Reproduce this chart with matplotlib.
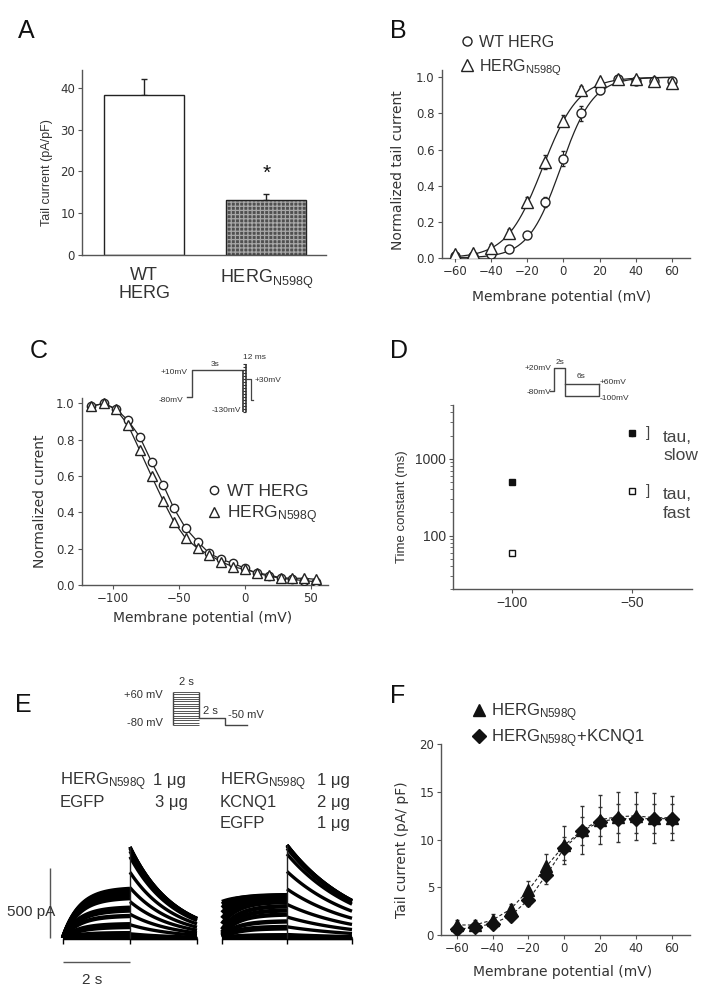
import numpy as np
import matplotlib
matplotlib.use("Agg")
import matplotlib.pyplot as plt

W, H = 715, 999

plt.rcParams['font.family'] = ['Liberation Sans', 'DejaVu Sans']
plt.rcParams['mathtext.fontset'] = 'custom'
plt.rcParams['mathtext.rm'] = 'Liberation Sans'
plt.rcParams['mathtext.it'] = 'Liberation Sans:italic'
plt.rcParams['hatch.linewidth'] = 0.9

TXT = '#333333'
AXC = '#555555'
WIDE = 'DejaVu Sans'
N598Q = r'HERG$_{\mathrm{N598Q}}$'

# ---------------- data ----------------
# A: tail current density
a_groups = ['WT\nHERG', N598Q]
a_means = [38.2, 13.2]
a_sem = [3.9, 1.3]

# B: activation curves (normalized tail current)
b_v = [-60, -50, -40, -30, -20, -10, 0, 10, 20, 30, 40, 50, 60]
b_wt = [0.01, 0.01, 0.02, 0.05, 0.13, 0.31, 0.55, 0.80, 0.93, 0.99, 0.98, 0.98, 0.98]
b_wt_err = [0.005, 0.005, 0.01, 0.01, 0.015, 0.03, 0.04, 0.04, 0.02, 0.01, 0.01, 0.01, 0.01]
b_mut = [0.02, 0.03, 0.055, 0.14, 0.31, 0.53, 0.76, 0.93, 0.98, 0.99, 0.99, 0.98, 0.97]
b_mut_err = [0.01, 0.01, 0.02, 0.02, 0.03, 0.04, 0.03, 0.02, 0.01, 0.01, 0.01, 0.01, 0.01]
# Boltzmann fit parameters (V1/2, slope)
b_fit_wt = (-1.5, 9.0)
b_fit_mut = (-11.5, 10.0)

# C: steady-state inactivation
c_v = [-117, -107, -98, -89, -80, -71, -62, -54, -45, -36, -27, -18, -9, 0, 9, 18, 27, 36, 45, 54]
c_wt = [0.985, 1.0, 0.97, 0.908, 0.817, 0.679, 0.55, 0.422, 0.312, 0.239, 0.174, 0.141, 0.119,
        0.092, 0.064, 0.05, 0.037, 0.031, 0.024, 0.018]
c_mut = [0.985, 1.0, 0.967, 0.884, 0.743, 0.60, 0.462, 0.349, 0.257, 0.202, 0.165, 0.128, 0.10,
         0.086, 0.068, 0.055, 0.04, 0.037, 0.037, 0.031]

# D: deactivation time constants
d_v = [-100, -50]
d_tau_slow = [492, 2130]
d_tau_fast = [60, 383]

# E: current traces, one value per sweep (-80..+60 mV), pA
e_left_inst = [0] * 15
e_left_plat = [0, 20, 35, 80, 100, 160, 200, 220, 290, 310, 330, 345, 357, 350, 340]
e_left_tail = [0, 0, 10, 30, 95, 170, 260, 360, 470, 580, 620, 640, 650, 650, 650]
e_right_inst = [0, 0, 0, 5, 10, 15, 25, 40, 60, 100, 140, 180, 215, 240, 257]
e_right_plat = [0, 15, 20, 70, 80, 120, 170, 200, 230, 260, 280, 295, 305, 307, 300]
e_right_tail = [0, 0, 10, 25, 80, 150, 240, 350, 475, 600, 640, 655, 664, 664, 664]
e_tau_act = 0.5
e_tau_left = 1.3
e_tau_right = 2.2

# F: tail current-voltage
f_v = [-60, -50, -40, -30, -20, -10, 0, 10, 20, 30, 40, 50, 60]
f_mut = [1.05, 1.05, 1.57, 2.7, 4.7, 7.2, 9.4, 11.0, 12.1, 12.4, 12.5, 12.3, 12.3]
f_mut_err = [0.5, 0.5, 0.6, 0.6, 1.0, 1.3, 2.0, 2.5, 2.6, 2.6, 2.5, 2.6, 2.3]
f_kcnq = [0.6, 0.8, 1.2, 2.0, 3.7, 6.3, 9.1, 10.9, 11.9, 12.2, 12.2, 12.2, 12.2]
f_kcnq_err = [0.4, 0.4, 0.4, 0.5, 0.7, 1.0, 1.2, 1.5, 1.5, 1.5, 1.5, 1.5, 1.5]

# protocols (schematic times in s, voltages in mV)
pc_t, pc_v = [-0.25, 0, 0, 3.0], [-80, -80, 10, 10]
pc_pulses = list(range(-130, 40, 10))
pc_after_t, pc_after_v = [3.2, 3.45, 3.45, 3.6], [-20, -20, -90, -90]
pd_t, pd_v = [-0.8, 0, 0, 2, 2, 8, 8], [-80, -80, 20, 20, -100, -100, -50]
pd_t2, pd_v2 = [2, 8], [-50, -50]
pe_sweeps = list(range(-80, 70, 10))
pe_t, pe_v = [2, 4, 4, 5.7], [-50, -50, -80, -80]


fig = plt.figure(figsize=(W / 100, H / 100), dpi=100)


def px_axes(x0, y0, x1, y1):
    return fig.add_axes([x0 / W, 1 - y1 / H, (x1 - x0) / W, (y1 - y0) / H])


def ftext(x, y, s, **kw):
    kw.setdefault('color', TXT)
    return fig.text(x / W, 1 - y / H, s, **kw)


def style(ax, family=WIDE, size=8.5):
    for s in ['top', 'right']:
        ax.spines[s].set_visible(False)
    for s in ['left', 'bottom']:
        ax.spines[s].set_color(AXC)
        ax.spines[s].set_linewidth(1.0)
    ax.tick_params(direction='out', length=3, width=0.8, color=AXC, labelcolor=TXT,
                   labelsize=size, pad=2)
    for lab in ax.get_xticklabels() + ax.get_yticklabels():
        lab.set_family(family)


def label(ax, axis, text, frac, size=10, family=WIDE):
    if axis == 'y':
        ax.set_ylabel(text, va='center', fontsize=size, family=family, color=TXT)
        ax.yaxis.set_label_coords(*frac)
    else:
        ax.set_xlabel(text, va='center', fontsize=size, family=family, color=TXT)
        ax.xaxis.set_label_coords(*frac)


def legend(ax, x, y, size, spacing=0.25):
    lg = ax.legend(loc='upper left', bbox_to_anchor=(x / W, 1 - y / H),
                   bbox_transform=fig.transFigure, frameon=False, fontsize=size,
                   handlelength=0.8, handletextpad=0.35, borderpad=0, labelspacing=spacing,
                   borderaxespad=0, numpoints=1)
    for t in lg.get_texts():
        t.set_color(TXT)


# ---------------- A ----------------
axA = px_axes(82, 70, 326, 255)
xa = np.arange(len(a_means))
axA.bar(xa[0], a_means[0], width=0.66, color='white', edgecolor='#222', lw=1.0, zorder=2)
axA.bar(xa[1], a_means[1], width=0.66, color='#505050', edgecolor='#a8a8a8', lw=0,
        hatch='++++', zorder=2)
axA.bar(xa[1], a_means[1], width=0.66, color='none', edgecolor='#222', lw=1.0, zorder=3)
axA.errorbar(xa, a_means, yerr=[[0, 0], a_sem], fmt='none', ecolor='#222', elinewidth=1,
             capsize=2.5, capthick=1, zorder=1)
axA.text(1, 19.6, '*', ha='center', va='center', fontsize=15, color='#111')
axA.set_xlim(-0.51, 1.49)
axA.set_ylim(0, 44.3)
axA.set_yticks([0, 10, 20, 30, 40])
axA.set_xticks(xa)
axA.set_xticklabels(a_groups, fontsize=13, linespacing=1.0)
style(axA, size=8.5)
axA.tick_params(axis='x', length=0, pad=9, labelsize=13)
for lab in axA.get_xticklabels():
    lab.set_family(['Liberation Sans', 'DejaVu Sans'])
label(axA, 'y', 'Tail current (pA/pF)', (-0.143, 0.446), size=9,
      family=['Liberation Sans', 'DejaVu Sans'])

# ---------------- B ----------------
axB = px_axes(441.7, 70, 690, 258)
vv = np.linspace(-60, 60, 241)
for (vh, k) in (b_fit_wt, b_fit_mut):
    axB.plot(vv, 1 / (1 + np.exp((vh - vv) / k)), color='#222', lw=0.9, zorder=1)
axB.errorbar(b_v, b_wt, yerr=b_wt_err, fmt='none', ecolor='#222', elinewidth=0.8, capsize=1.5)
axB.errorbar(b_v, b_mut, yerr=b_mut_err, fmt='none', ecolor='#222', elinewidth=0.8, capsize=1.5)
axB.plot(b_v, b_wt, 'o', ms=6.5, mfc='white', mec='#222', mew=1, label='WT HERG', zorder=3)
axB.plot(b_v, b_mut, '^', ms=8, mfc='white', mec='#222', mew=1, label=N598Q, zorder=4)
axB.set_xlim(-67.4, 70.1)
axB.set_ylim(0, 1.04)
axB.set_xticks(range(-60, 61, 20))
axB.set_yticks(np.arange(0, 1.01, 0.2))
axB.set_yticklabels(['0.0', '0.2', '0.4', '0.6', '0.8', '1.0'])
style(axB)
label(axB, 'y', 'Normalized tail current', (-0.176, 0.468))
label(axB, 'x', 'Membrane potential (mV)', (0.4845, -0.207))
legend(axB, 461, 35, 11.5, spacing=0.45)

# ---------------- C ----------------
axC = px_axes(81.7, 398, 328, 585)
axC.plot(c_v, c_wt, color='#222', lw=0.9, zorder=1)
axC.plot(c_v, c_mut, color='#222', lw=0.9, zorder=1)
axC.plot(c_v, c_wt, 'o', ms=6, mfc='white', mec='#222', mew=1, label='WT HERG', zorder=3)
axC.plot(c_v, c_mut, '^', ms=7, mfc='white', mec='#222', mew=1, label=N598Q, zorder=4)
axC.set_xlim(-124, 63)
axC.set_ylim(0, 1.03)
axC.set_xticks([-100, -50, 0, 50])
axC.set_yticks(np.arange(0, 1.01, 0.2))
axC.set_yticklabels(['0.0', '0.2', '0.4', '0.6', '0.8', '1.0'])
style(axC)
label(axC, 'y', 'Normalized current', (-0.169, 0.449))
label(axC, 'x', 'Membrane potential (mV)', (0.4925, -0.176))
legend(axC, 207, 484, 12.5)

# C protocol
pC = px_axes(185, 350, 265, 420)
pC.set_xlim(-0.392, 4.287)
pC.set_ylim(-156.7, 76.7)
pC.axis('off')
pC.plot(pc_t, pc_v, color='#444', lw=1)
pC.vlines(3.0, min(pc_pulses), 10, color='#333', lw=1.2)
pC.hlines(pc_pulses, 3.0, 3.2, color='#333', lw=0.8)
pC.vlines(3.2, min(pc_pulses), max(pc_pulses), color='#333', lw=1.2)
pC.plot(pc_after_t, pc_after_v, color='#444', lw=0.9)
ftext(188, 372, '+10mV', ha='right', va='center', fontsize=6)
ftext(183, 401, '-80mV', ha='right', va='center', fontsize=6)
ftext(215, 365, '3s', ha='center', va='center', fontsize=6)
ftext(254, 358, '12 ms', ha='center', va='center', fontsize=6)
ftext(255, 381, '+30mV', ha='left', va='center', fontsize=6)
ftext(241, 411, '-130mV', ha='right', va='center', fontsize=6)

# ---------------- D ----------------
axD = px_axes(452.7, 405, 691.7, 589.3)
axD.set_yscale('log')
axD.errorbar(d_v, d_tau_slow, yerr=[[v * 0.06 for v in d_tau_slow], [v * 0.06 for v in d_tau_slow]],
             fmt='s', ms=4.5, mfc='#111', mec='#111', ecolor='#333', elinewidth=0.8, capsize=1)
axD.errorbar(d_v, d_tau_fast, yerr=[[v * 0.06 for v in d_tau_fast], [v * 0.06 for v in d_tau_fast]],
             fmt='s', ms=4.5, mfc='white', mec='#111', mew=1, ecolor='#333', elinewidth=0.8, capsize=1)
axD.set_xlim(-125, -25)
axD.set_ylim(20, 5000)
axD.set_xticks([-100, -50])
axD.set_yticks([100, 1000])
axD.set_yticklabels(['100', '1000'])
style(axD, family=['Liberation Sans', 'DejaVu Sans'], size=10)
axD.tick_params(which='minor', length=2, color=AXC)
axD.yaxis.set_minor_formatter(plt.NullFormatter())
label(axD, 'y', 'Time constant (ms)', (-0.212, 0.4466), size=9.5,
      family=['Liberation Sans', 'DejaVu Sans'])
for yv, txt in ((d_tau_slow[1], 'tau,\nslow'), (d_tau_fast[1], 'tau,\nfast')):
    axD.text(-43.5, yv, ']', ha='center', va='center', fontsize=11, color='#444')
    axD.text(-37.0, yv * 1.12, txt, ha='left', va='top', fontsize=12.5, color='#444',
             linespacing=1.3)

# D protocol
pD = px_axes(540, 355, 640, 405)
pD.set_xlim(-2.5, 15.36)
pD.set_ylim(-140.9, 76.5)
pD.axis('off')
pD.plot(pd_t, pd_v, color='#444', lw=1)
pD.plot(pd_t2, pd_v2, color='#444', lw=1)
ftext(551, 368, '+20mV', ha='right', va='center', fontsize=6)
ftext(551, 392, '-80mV', ha='right', va='center', fontsize=6)
ftext(560, 362, '2s', ha='center', va='center', fontsize=6)
ftext(581, 377, '6s', ha='center', va='center', fontsize=6)
ftext(600, 383, '+60mV', ha='left', va='center', fontsize=6)
ftext(600, 398, '-100mV', ha='left', va='center', fontsize=6)

# ---------------- E ----------------
pE = px_axes(150, 680, 260, 735)
pE.set_xlim(-1.77, 6.69)
pE.set_ylim(-122.4, 110.7)
pE.axis('off')
pE.hlines(pe_sweeps, 0, 2, color='#555', lw=0.7)
pE.vlines(0, min(pe_sweeps), max(pe_sweeps), color='#444', lw=1)
pE.vlines(2, pe_v[0], max(pe_sweeps), color='#444', lw=1)
pE.plot(pe_t, pe_v, color='#444', lw=1)
ftext(163, 695, '+60 mV', ha='right', va='center', fontsize=8)
ftext(163, 723, '-80 mV', ha='right', va='center', fontsize=8)
ftext(186, 682, '2 s', ha='center', va='center', fontsize=8)
ftext(210, 711, '2 s', ha='center', va='center', fontsize=8)
ftext(228, 715, '-50 mV', ha='left', va='center', fontsize=8)

ftext(60, 785, N598Q, ha='left', va='baseline', fontsize=12)
ftext(153, 785, '1 μg', ha='left', va='baseline', fontsize=12)
ftext(60, 807, 'EGFP', ha='left', va='baseline', fontsize=12)
ftext(155, 807, '3 μg', ha='left', va='baseline', fontsize=12)
ftext(220, 785, N598Q, ha='left', va='baseline', fontsize=12)
ftext(317, 785, '1 μg', ha='left', va='baseline', fontsize=12)
ftext(220, 807, 'KCNQ1', ha='left', va='baseline', fontsize=12)
ftext(317, 807, '2 μg', ha='left', va='baseline', fontsize=12)
ftext(220, 828, 'EGFP', ha='left', va='baseline', fontsize=12)
ftext(317, 828, '1 μg', ha='left', va='baseline', fontsize=12)


def traces(x0, x1, t0_px, px_s, inst, plat, tail, tau_tail):
    ax = px_axes(x0, 835, x1, 990)
    ax.set_xlim((x0 - t0_px) / px_s, (x1 - t0_px) / px_s)
    ax.set_ylim((938 - 990) / 0.14, (938 - 835) / 0.14)
    ax.axis('off')
    t1 = np.linspace(0, 2, 120)
    t2 = np.linspace(2, 4, 120)
    for a, p, tl in zip(inst, plat, tail):
        i1 = a + (p - a) * (1 - np.exp(-t1 / e_tau_act))
        i2 = tl * np.exp(-(t2 - 2) / tau_tail)
        ax.plot(t1, i1, color='black', lw=3.2, solid_capstyle='butt')
        ax.plot(t2, i2, color='black', lw=2.4, solid_capstyle='butt')
    ax.vlines([0, 2, 4], -45, 0, color='black', lw=1)
    ax.vlines(2, 0, max(tail), color='#222', lw=1.0)
    return ax


axEl = traces(0, 205, 63, 33.5, e_left_inst, e_left_plat, e_left_tail, e_tau_left)
traces(205, 360, 222, 32.5, e_right_inst, e_right_plat, e_right_tail, e_tau_right)
# scale bars
axEl.vlines(-0.39, 0, 500, color='#555', lw=1)
axEl.hlines(-171, 0, 2, color='#555', lw=1)
axEl.text(-1.67, 186, '500 pA', ha='left', va='center', fontsize=11, color=TXT)
axEl.text(0.87, -300, '2 s', ha='center', va='center', fontsize=11, color=TXT)

# ---------------- F ----------------
axF = px_axes(441, 744.3, 690, 935)
axF.errorbar(f_v, f_mut, yerr=f_mut_err, fmt='none', ecolor='#333', elinewidth=0.8, capsize=1.5)
axF.errorbar(f_v, f_kcnq, yerr=f_kcnq_err, fmt='none', ecolor='#333', elinewidth=0.8, capsize=1.5)
axF.plot(f_v, f_mut, color='#222', lw=0.8, ls=(0, (3, 2)), zorder=2)
axF.plot(f_v, f_kcnq, color='#222', lw=0.8, ls=(0, (3, 2)), zorder=2)
axF.plot(f_v, f_mut, '^', ms=8, color='#111', label=N598Q, ls='none', zorder=3)
axF.plot(f_v, f_kcnq, 'D', ms=7, color='#111', label=N598Q + '+KCNQ1', ls='none', zorder=4)
axF.set_xlim(-68.8, 70.2)
axF.set_ylim(0, 20)
axF.set_xticks(range(-60, 61, 20))
axF.set_yticks([0, 5, 10, 15, 20])
style(axF)
label(axF, 'y', 'Tail current (pA/ pF)', (-0.157, 0.446))
label(axF, 'x', 'Membrane potential (mV)', (0.49, -0.194))
legend(axF, 472, 701, 12, spacing=0.2)

# panel letters
for x, y, s in ((18, 38, 'A'), (390, 38, 'B'), (30, 358, 'C'), (390, 358, 'D'),
                (15, 712, 'E'), (390, 703, 'F')):
    ftext(x, y, s, ha='left', va='baseline', fontsize=18, color='#111')

fig.savefig('out.png', dpi=100)
